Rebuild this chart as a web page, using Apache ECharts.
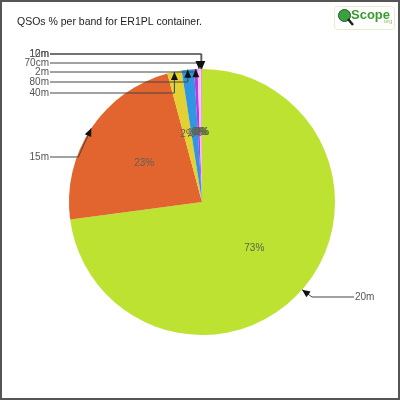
<!DOCTYPE html>
<html><head><meta charset="utf-8">
<script src="https://cdn.jsdelivr.net/npm/echarts@6/dist/echarts.min.js"></script>
<style>html,body{margin:0;padding:0;background:#fff}#c{width:400px;height:400px;box-sizing:border-box;border:2px solid #555}</style>
</head><body><div id="c"></div>
<script>
var bands = ['20m','15m','40m','80m','2m','70cm','10m','12m'];
var values = [72.9, 22.9, 1.75, 1.5, 0.42, 0.33, 0.15, 0.05];
var colors = ['#bee232','#e2642f','#e3d133','#2f97e2','#b43ce2','#f4c0f4','#f4c0f4','#e02f8a'];
var titleText = 'QSOs % per band for ER1PL container.';

// label layout (positions of the outside labels)
var labelY = {'20m':295,'15m':155,'40m':91,'80m':80,'2m':70,'70cm':61,'10m':52,'12m':52};
var CX=200, CY=200, R=133;

var total = values.reduce(function(a,b){return a+b;},0);
var edges = [];
var acc = 0;
values.forEach(function(v){
  var mid = (acc + v/2)/total*2*Math.PI;
  acc += v;
  edges.push([CX + R*Math.sin(mid), CY - R*Math.cos(mid)]);
});
var bends = [];
bands.forEach(function(b,i){
  var e = edges[i], ly = labelY[b];
  var bx;
  if (i===0) bx = e[0]+10;
  else if (i===1) bx = e[0]-13;
  else bx = e[0];
  bends.push([bx, ly]);
});

var data = bands.map(function(b,i){return {name:b, value:values[i], itemStyle:{color:colors[i]}};});

var chart = echarts.init(document.getElementById('c'));
var arrows = [];
bands.forEach(function(b,i){
  var e = edges[i], p = bends[i];
  var endX = (i===0) ? 352 : 48;
  arrows.push({type:'polyline', silent:true, z:99,
    shape:{points:[[e[0],e[1]],[p[0],p[1]],[endX,p[1]]]},
    style:{stroke:'#444', lineWidth:1, fill:null}});
  var dx = e[0]-p[0], dy = e[1]-p[1];
  var L = Math.sqrt(dx*dx+dy*dy)||1; dx/=L; dy/=L;
  var len=8, w=3.5;
  var bxp = e[0]-dx*len, byp = e[1]-dy*len;
  arrows.push({type:'polygon', silent:true, z:100,
    shape:{points:[[e[0],e[1]],[bxp-dy*w, byp+dx*w],[bxp+dy*w, byp-dx*w]]},
    style:{fill:'#111'}});
});

chart.setOption({
  animation:false,
  backgroundColor:'#fff',
  title:{text:titleText, left:10, top:10, textStyle:{fontFamily:'Liberation Sans', fontSize:10.5, fontWeight:'normal', color:'#222'}},
  graphic: arrows.concat([
    {type:'rect', left:332, top:4, shape:{width:60,height:23,r:3}, style:{fill:'#fff',stroke:'#e6efcc',lineWidth:1}},
    {type:'circle', left:336, top:7, shape:{r:6}, style:{fill:'#3aa040',stroke:'#1f5a20',lineWidth:1}},
    {type:'line', shape:{x1:346,y1:17,x2:351,y2:23}, style:{stroke:'#222',lineWidth:2.5}},
    {type:'text', left:349, top:7, style:{text:'Scope', font:'bold 13px "Liberation Sans Narrow", "Liberation Sans"', fill:'#3a9a30'}},
    {type:'text', left:380, top:16, style:{text:'.org', font:'6px "Liberation Sans"', fill:'#9ac060'}}
  ]),
  series:[
    {type:'pie', center:[CX,CY], radius:R, startAngle:90, clockwise:true, data:data,
     itemStyle:{borderColor:'#fff', borderWidth:1},
     avoidLabelOverlap:false, minShowLabelAngle:0,
     label:{position:'inside', formatter:function(p){return Math.round(p.value/total*100)+'%';},
            fontFamily:'Liberation Sans', fontSize:10, color:'#5e6250', overflow:'none'},
     labelLayout:{hideOverlap:false},
     labelLine:{show:false}, emphasis:{disabled:true}, silent:true},
    {type:'pie', center:[CX,CY], radius:R, startAngle:90, clockwise:true, data:data,
     itemStyle:{color:'rgba(0,0,0,0)', borderWidth:0},
     label:{position:'outside', formatter:'{b}', fontFamily:'Liberation Sans', fontSize:10, color:'#555'},
     labelLine:{show:false},
     labelLayout:function(p){
       var i = p.dataIndex;
       if (i===0) return {x:353, y:labelY[bands[i]], align:'left', verticalAlign:'middle'};
       return {x:47, y:labelY[bands[i]], align:'right', verticalAlign:'middle'};
     },
     emphasis:{disabled:true}, silent:true}
  ]
});
</script></body></html>
